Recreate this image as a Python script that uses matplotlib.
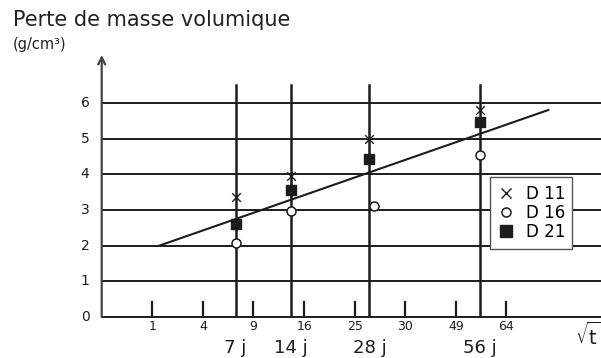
import numpy as np
import matplotlib
matplotlib.use("Agg")
import matplotlib.pyplot as plt
from matplotlib.lines import Line2D

# ---- data ----
days = [7, 14, 28, 56]
day_labels = ["7 j", "14 j", "28 j", "56 j"]
tick_labels = ["1", "4", "9", "16", "25", "30", "49", "64"]
y_levels = [0, 1, 2, 3, 4, 5, 6]

d11 = [3.37, 3.95, 4.98, 5.80]
d16 = [2.06, 2.97, 3.12, 4.53]
d21 = [2.60, 3.56, 4.43, 5.46]

# regression line end points (sqrt t, loss)
trend_x = [1.14, 8.83]
trend_y = [2.00, 5.80]

plt.rcParams["font.family"] = ["DejaVu Sans"]
INK = "#1c1c1c"

fig = plt.figure(figsize=(6.01, 3.58), dpi=100)
ax = fig.add_axes([101.7 / 601, 41 / 358, 1 - 101.7 / 601, 262 / 358])
x_max = 9.87
y_max = 7.34
ax.set_xlim(0, x_max)
ax.set_ylim(0, y_max)
ax.axis("off")

sx = np.sqrt(days)

# horizontal grid
for lv in y_levels:
    ax.plot([0, x_max], [lv, lv], color=INK, lw=1.4, zorder=1, clip_on=False)
    ax.text(-0.33, lv, str(lv), ha="center", va="center", fontsize=10, color=INK)

# y axis with arrow
ax.annotate("", xy=(0, y_max), xytext=(0, 0),
            arrowprops=dict(arrowstyle="->,head_length=0.5,head_width=0.25",
                            color="#444444", lw=1.6, shrinkA=0, shrinkB=0),
            annotation_clip=False, zorder=2)

# small ticks on the sqrt(t) axis
for k, lab in enumerate(tick_labels, start=1):
    ax.plot([k, k], [0, 0.43], color=INK, lw=1.6, zorder=2)
    ax.text(k, -0.27, lab, ha="center", va="center", fontsize=9, color=INK)

# age lines
for x, lab in zip(sx, day_labels):
    ax.plot([x, x], [0, 6.5], color=INK, lw=1.8, zorder=2)
    ax.text(x, -0.86, lab, ha="center", va="center", fontsize=13, color=INK)

ax.plot(trend_x, trend_y, color=INK, lw=1.5, zorder=3)

ax.scatter(sx, d11, marker="x", s=38, color=INK, linewidths=1.0, zorder=4)
ax.scatter(sx + np.array([0, 0, 0.1, 0]), d16, marker="o", s=42,
           facecolor="white", edgecolor=INK, linewidths=1.1, zorder=4)
ax.scatter(sx, d21, marker="s", s=55, color=INK, zorder=4)

handles = [
    Line2D([], [], ls="none", marker="x", ms=7, mew=1.0, color=INK),
    Line2D([], [], ls="none", marker="o", ms=6.5, mfc="white", mec=INK, mew=1.1),
    Line2D([], [], ls="none", marker="s", ms=8, color=INK),
]
leg = ax.legend(handles, ["D 11", "D 16", "D 21"], loc="upper left",
                bbox_to_anchor=(7.67, 3.92), bbox_transform=ax.transData,
                frameon=True, fancybox=False, fontsize=12, handlelength=1.0,
                handletextpad=0.7, labelspacing=0.08, borderpad=0.45,
                borderaxespad=0, facecolor="white", edgecolor="#555555",
                framealpha=1)
leg.get_frame().set_linewidth(1.0)
leg.set_zorder(5)

ax.text(9.62, -0.52, r"$\sqrt{\mathrm{t}}$", ha="center", va="center",
        fontsize=14, color=INK, clip_on=False)

fig.text(13 / 601, 1 - 20 / 358, "Perte de masse volumique", ha="left",
         va="center", fontsize=15, color="#222222")
fig.text(13 / 601, 1 - 45 / 358, "(g/cm³)", ha="left", va="center",
         fontsize=10.5, color="#222222")

fig.savefig("out.png", dpi=100)
